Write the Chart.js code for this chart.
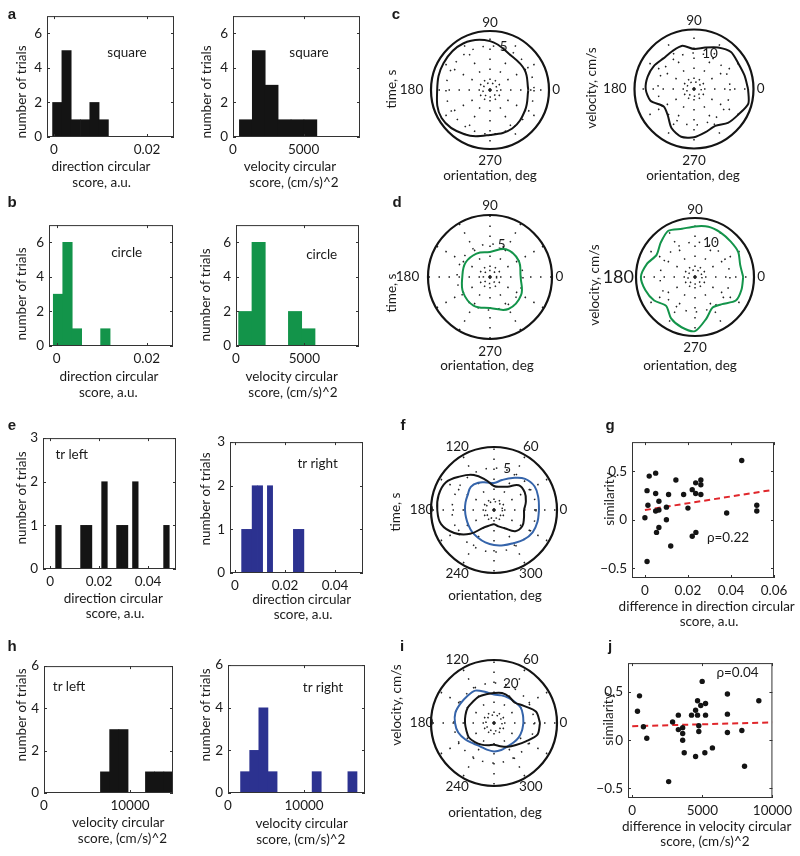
<!DOCTYPE html>
<html>
<head>
<meta charset="utf-8">
<script src="https://cdn.jsdelivr.net/npm/chart.js@4.4.0/dist/chart.umd.min.js"></script>
<style>
html, body { margin: 0; padding: 0; background: #fff; overflow: hidden; }
#page { position: relative; width: 800px; height: 856px; overflow: hidden; font-family: Lato, "Open Sans", sans-serif; color: #1a1a1a; }
canvas { position: absolute; }
.t { position: absolute; font-size: 13.5px; line-height: 1; white-space: nowrap; transform: translate(-50%, -50%); }
.r { transform: translate(-50%, -50%) rotate(-90deg); }
.p { position: absolute; font: bold 15px "Liberation Sans", Arial, sans-serif; line-height: 1; transform: translate(-50%, -50%); }
</style>
</head>
<body>
<div id="page"></div>
<script>
// histograms: bin centres and counts
const sqDirBins = [0.0007, 0.0027, 0.0047, 0.0067, 0.0087, 0.0107];
const sqDirCounts = [2, 5, 1, 1, 2, 1];
const sqVelBins = [910, 1825, 2740, 3655, 4570, 5485];
const sqVelCounts = [1, 5, 3, 1, 1, 1];
const ciDirBins = [0.0003, 0.0024, 0.0045, 0.0108];
const ciDirCounts = [3, 6, 1, 1];
const ciVelBins = [680, 1655, 4320, 5295];
const ciVelCounts = [2, 6, 2, 1];
const leftDirBins = [0.0034, 0.0136, 0.0159, 0.0222, 0.0283, 0.0306, 0.0348, 0.0475];
const leftDirCounts = [1, 1, 1, 2, 1, 1, 2, 1];
const rightDirBins = [0.0037, 0.0058, 0.0079, 0.0100, 0.0140, 0.0244, 0.0265];
const rightDirCounts = [1, 1, 2, 2, 2, 1, 1];
const leftVelBins = [7100, 8170, 9240, 12330, 13400, 14470];
const leftVelCounts = [1, 3, 3, 1, 1, 1];
const rightVelBins = [2250, 3450, 4650, 5850, 11650, 16350];
const rightVelCounts = [1, 2, 4, 1, 1, 1];

// similarity vs difference in circular score
const gDiff = [0.000, 0.001, 0.001, 0.0014, 0.002, 0.005, 0.005, 0.005, 0.0054, 0.0065, 0.0065, 0.0065, 0.010, 0.010, 0.011, 0.012, 0.0144, 0.018, 0.020, 0.022, 0.022, 0.0236, 0.0236, 0.0237, 0.026, 0.026, 0.026, 0.038, 0.045, 0.052, 0.052];
const gSim = [0.02, -0.43, 0.30, 0.15, 0.45, 0.48, 0.27, 0.09, -0.13, 0.10, -0.08, 0.19, 0.00, 0.13, 0.26, -0.27, 0.41, 0.26, 0.12, -0.17, 0.31, 0.38, 0.27, -0.13, 0.41, 0.36, 0.26, 0.07, 0.61, 0.15, 0.09];
const gFitX = [0, 0.06];
const gFitY = [0.10, 0.31];
const jDiff = [377, 520, 800, 1040, 2600, 2880, 3290, 3290, 3600, 3600, 3600, 3710, 4230, 4520, 4520, 4660, 4660, 4750, 4750, 4890, 4990, 5180, 5230, 5230, 5720, 6790, 6790, 6790, 7820, 8010, 9030];
const jSim = [0.30, 0.46, 0.14, 0.02, -0.43, 0.19, 0.26, 0.11, 0.13, 0.07, 0.00, -0.13, 0.26, 0.31, -0.17, 0.41, 0.26, 0.15, 0.09, 0.36, 0.61, -0.13, 0.38, 0.26, -0.08, 0.48, 0.27, 0.08, 0.10, -0.27, 0.41];
const jFitX = [0, 10000];
const jFitY = [0.145, 0.185];

// polar curves (radius per orientation, deg)
const angles30 = [0, 30, 60, 90, 120, 150, 180, 210, 240, 270, 300, 330];
const angles15 = [0, 15, 30, 45, 60, 75, 90, 105, 120, 135, 150, 165, 180, 195, 210, 225, 240, 255, 270, 285, 300, 315, 330, 345];
const squareTime = [4.35, 4.55, 4.6, 5.55, 6.1, 6.1, 6.0, 6.35, 5.8, 5.1, 5.05, 4.6];
const squareVel = [15.0, 14.5, 14.2, 14.5, 13.3, 11.9, 11.1, 12.4, 12.1, 12.0, 12.8, 13.3, 13.4, 12.5, 9.7, 10.3, 12.5, 13.7, 13.4, 12.4, 11.8, 13.3, 14.2, 15.6];
const circleTime = [4.65, 5.0, 4.85, 3.8, 4.1, 4.3, 4.2, 4.7, 5.0, 4.7, 5.6, 5.45];
const circleVel = [13.8, 13.4, 14.3, 14.4, 14.7, 14.9, 14.5, 14.3, 15.3, 13.9, 12.7, 14.3, 15.5, 14.7, 13.5, 11.7, 13.7, 14.9, 15.5, 12.4, 10.1, 11.0, 13.5, 13.8];
const leftTime = [3.57, 3.93, 4.22, 4.17, 3.21, 2.86, 2.86, 3.69, 4.8, 5.66, 6.6, 6.83, 6.75, 6.52, 5.47, 4.01, 2.38, 1.9, 1.7, 2.02, 2.5, 3.57, 3.88, 3.69];
const rightTime = [5.36, 5.47, 5.59, 5.24, 4.4, 3.69, 3.21, 3.4, 3.75, 3.9, 3.61, 3.51, 3.45, 3.45, 3.53, 3.69, 3.81, 3.99, 4.17, 4.34, 4.56, 5.0, 5.31, 5.36];
const leftVel = [23, 21.8, 17.2, 14.5, 15.2, 15.5, 15, 14.9, 15.2, 15, 15.2, 14.8, 14.5, 14.3, 14.5, 13.5, 12.5, 11.5, 10.9, 12, 13.7, 15.5, 18.4, 22.5];
const rightVel = [14.7, 15, 15.4, 14.8, 14.5, 14.3, 14.2, 16, 18.7, 19, 19.4, 20, 19.5, 18.5, 16.5, 14.5, 13.6, 13.8, 14.2, 14, 13.5, 13.8, 14.3, 14.5];

const BLACK = '#141414';
const GREEN = '#13944a';
const NAVY = '#2c3290';
const BLUE = '#3564aa';
const RED = '#e0262b';

Chart.defaults.font.family = 'Lato, "Open Sans", sans-serif';
Chart.defaults.font.size = 13.5;
Chart.defaults.color = '#1a1a1a';
Chart.defaults.animation = false;

const page = document.getElementById('page');

function addCanvas(left, top, w, h) {
    const c = document.createElement('canvas');
    c.width = w;
    c.height = h;
    c.style.left = left + 'px';
    c.style.top = top + 'px';
    c.style.width = w + 'px';
    c.style.height = h + 'px';
    page.appendChild(c);
    return c;
}

function addText(txt, x, y, cls) {
    const d = document.createElement('div');
    d.className = cls || 't';
    d.textContent = txt;
    d.style.left = x + 'px';
    d.style.top = y + 'px';
    page.appendChild(d);
}

const fmt = v => (v < 0 ? '\u2212' + Math.abs(v) : String(v));

// box + inward ticks on all four sides, like the matlab axes
const framePlugin = {
    id: 'frame',
    afterDatasetsDraw(chart) {
        const {ctx, chartArea: a, scales: {x, y}} = chart;
        ctx.save();
        ctx.strokeStyle = '#333';
        ctx.lineWidth = 1;
        ctx.strokeRect(a.left + 0.5, a.top + 0.5, a.right - a.left - 1, a.bottom - a.top - 1);
        ctx.beginPath();
        x.ticks.forEach(t => {
            const px = Math.round(x.getPixelForValue(t.value)) + 0.5;
            ctx.moveTo(px, a.bottom); ctx.lineTo(px, a.bottom - 3);
            ctx.moveTo(px, a.top); ctx.lineTo(px, a.top + 3);
        });
        y.ticks.forEach(t => {
            const py = Math.round(y.getPixelForValue(t.value)) + 0.5;
            ctx.moveTo(a.left, py); ctx.lineTo(a.left + 3, py);
            ctx.moveTo(a.right, py); ctx.lineTo(a.right - 3, py);
        });
        ctx.stroke();
        ctx.restore();
    }
};

function axis(range, ticks, fit) {
    return {
        type: 'linear',
        min: range[0],
        max: range[1],
        offset: false,
        grid: {display: false, drawTicks: false},
        border: {display: false},
        afterBuildTicks: s => { s.ticks = ticks.map(v => ({value: v})); },
        afterFit: fit,
        ticks: {padding: 5, autoSkip: false, maxRotation: 0, callback: fmt}
    };
}

// box = [left, right, top, bottom] of the plot area on the page
function frameChart(type, box, datasets, xr, xTicks, yr, yTicks, padR) {
    const padT = 10, yW = 50, xH = 30;
    const w = box[1] - box[0], h = box[3] - box[2];
    const cv = addCanvas(box[0] - yW, box[2] - padT, w + yW + padR, h + padT + xH);
    return new Chart(cv, {
        type: type,
        data: {datasets: datasets},
        options: {
            responsive: false,
            animation: false,
            events: [],
            layout: {padding: {top: padT, right: padR, left: 0, bottom: 0}},
            plugins: {legend: {display: false}, tooltip: {enabled: false}},
            scales: {
                x: axis(xr, xTicks, s => { s.height = xH; }),
                y: axis(yr, yTicks, s => { s.width = yW; })
            }
        },
        plugins: [framePlugin]
    });
}

function histogram(box, bins, counts, color, xr, xTicks, yMax, yTicks) {
    const ds = [{
        data: bins.map((b, i) => ({x: b, y: counts[i]})),
        backgroundColor: color,
        borderWidth: 0,
        barPercentage: 1,
        categoryPercentage: 1
    }];
    frameChart('bar', box, ds, xr, xTicks, [0, yMax], yTicks, 8);
}

function scatter(box, xs, ys, fitX, fitY, xr, xTicks) {
    const ds = [
        {data: xs.map((v, i) => ({x: v, y: ys[i]})), pointRadius: 2.7, pointBackgroundColor: BLACK, pointBorderWidth: 0},
        {data: fitX.map((v, i) => ({x: v, y: fitY[i]})), showLine: true, borderColor: RED, borderWidth: 2, borderDash: [6, 4], pointRadius: 0}
    ];
    frameChart('scatter', box, ds, xr, xTicks, [-0.6, 0.8], [-0.5, 0, 0.5], 24);
}

function toXY(angles, radii) {
    const pts = angles.map((a, i) => ({
        x: radii[i] * Math.cos(a * Math.PI / 180),
        y: radii[i] * Math.sin(a * Math.PI / 180)
    }));
    pts.push(pts[0]);
    return pts;
}

// dotted spokes / rings, outer circle and angle labels
function polarGrid(cfg) {
    return {
        id: 'polarGrid',
        beforeDatasetsDraw(chart) {
            const {ctx, scales: {x, y}} = chart;
            const cx = x.getPixelForValue(0), cy = y.getPixelForValue(0);
            const rp = v => x.getPixelForValue(v) - cx;
            const R = rp(cfg.rMax);
            ctx.save();
            ctx.strokeStyle = '#222';
            ctx.lineWidth = 1.5;
            ctx.setLineDash([1.5, 8.5]);
            for (let a = 0; a < 360; a += 30) {
                const t = a * Math.PI / 180;
                ctx.beginPath();
                ctx.moveTo(cx, cy);
                ctx.lineTo(cx + R * Math.cos(t), cy - R * Math.sin(t));
                ctx.stroke();
            }
            cfg.rings.forEach((v, i) => {
                ctx.setLineDash(i === 0 ? [1.5, 3.5] : [1.5, 9]);
                ctx.beginPath();
                ctx.arc(cx, cy, rp(v), 0, 2 * Math.PI);
                ctx.stroke();
            });
            ctx.setLineDash([]);
            ctx.lineWidth = 2.2;
            ctx.strokeStyle = BLACK;
            ctx.beginPath();
            ctx.arc(cx, cy, R, 0, 2 * Math.PI);
            ctx.stroke();

            ctx.fillStyle = '#1a1a1a';
            ctx.textAlign = 'center';
            ctx.textBaseline = 'middle';
            cfg.labels.forEach(l => {
                const t = l[0] * Math.PI / 180;
                ctx.font = (l[3] || 13.5) + 'px Lato, sans-serif';
                ctx.fillText(l[1], cx + l[2] * R * Math.cos(t), cy - l[2] * R * Math.sin(t));
            });
            const rr = rp(cfg.ringLabel[0]), t80 = 80 * Math.PI / 180;
            ctx.font = '13.5px Lato, sans-serif';
            ctx.textAlign = 'left';
            ctx.fillText(cfg.ringLabel[1], cx + rr * Math.cos(t80) + 2, cy - rr * Math.sin(t80));
            ctx.restore();
        }
    };
}

function polar(cfg) {
    const W = 220, H = 200;
    const cv = addCanvas(cfg.cx - W / 2, cfg.cy - H / 2, W, H);
    const k = cfg.rMax / cfg.R;
    const datasets = cfg.curves.map(c => ({
        data: toXY(c.angles, c.radii),
        showLine: true,
        borderColor: c.color,
        borderWidth: 2,
        borderJoinStyle: 'round',
        pointRadius: 0,
        tension: c.tension
    }));
    new Chart(cv, {
        type: 'scatter',
        data: {datasets: datasets},
        options: {
            responsive: false,
            animation: false,
            events: [],
            layout: {padding: 0},
            plugins: {legend: {display: false}, tooltip: {enabled: false}},
            scales: {
                x: {display: false, min: -W / 2 * k, max: W / 2 * k},
                y: {display: false, min: -H / 2 * k, max: H / 2 * k}
            }
        },
        plugins: [polarGrid(cfg)]
    });
}

const quad = [[0, '0', 1.12], [90, '90', 1.15], [180, '180', 1.33], [270, '270', 1.2]];
const quadBig = [[0, '0', 1.12], [90, '90', 1.15], [180, '180', 1.3, 18], [270, '270', 1.2]];
const hex = [[0, '0', 1.1], [60, '60', 1.17], [120, '120', 1.17], [180, '180', 1.15], [240, '240', 1.17], [300, '300', 1.17]];

// ---- a, b ----
histogram([47, 174, 13, 137], sqDirBins, sqDirCounts, BLACK, [-0.0015, 0.0258], [0, 0.02], 7, [0, 2, 4, 6]);
histogram([233, 360, 13, 137], sqVelBins, sqVelCounts, BLACK, [0, 9000], [0, 5000], 7, [0, 2, 4, 6]);
histogram([49, 173, 222, 346], ciDirBins, ciDirCounts, GREEN, [-0.0017, 0.0258], [0, 0.02], 7, [0, 2, 4, 6]);
histogram([236, 359, 222, 346], ciVelBins, ciVelCounts, GREEN, [0, 9000], [0, 5000], 7, [0, 2, 4, 6]);

// ---- e, h ----
histogram([43, 176, 435, 569], leftDirBins, leftDirCounts, BLACK, [-0.0029, 0.0514], [0, 0.02, 0.04], 3, [0, 1, 2, 3]);
histogram([230, 363, 439, 573], rightDirBins, rightDirCounts, NAVY, [-0.002, 0.0512], [0, 0.02, 0.04], 3, [0, 1, 2, 3]);
histogram([44, 173, 663, 793], leftVelBins, leftVelCounts, BLACK, [0, 15000], [0, 10000], 6, [0, 2, 4, 6]);
histogram([228, 365, 662, 793], rightVelBins, rightVelCounts, NAVY, [0, 18000], [0, 10000], 6, [0, 2, 4, 6]);

// ---- g, j ----
scatter([632, 774, 439, 578], gDiff, gSim, gFitX, gFitY, [-0.006, 0.06], [0, 0.02, 0.04, 0.06]);
scatter([628, 773, 660, 798], jDiff, jSim, jFitX, jFitY, [-300, 10000], [0, 5000, 10000]);

// ---- c, d, f, i ----
polar({cx: 490, cy: 90, R: 59, rMax: 6.7, rings: [0.8, 5], ringLabel: [5, '5'], labels: quad,
    curves: [{angles: angles30, radii: squareTime, color: BLACK, tension: 0.4}]});
polar({cx: 694, cy: 89, R: 59.5, rMax: 16.5, rings: [2, 10], ringLabel: [10, '10'], labels: quad,
    curves: [{angles: angles15, radii: squareVel, color: BLACK, tension: 0.25}]});
polar({cx: 490, cy: 277, R: 62, rMax: 9.4, rings: [1, 5], ringLabel: [5, '5'], labels: quad,
    curves: [{angles: angles30, radii: circleTime, color: GREEN, tension: 0.4}]});
polar({cx: 695, cy: 277, R: 59, rMax: 16.9, rings: [2, 10], ringLabel: [10, '10'], labels: quadBig,
    curves: [{angles: angles15, radii: circleVel, color: GREEN, tension: 0.25}]});
polar({cx: 494, cy: 510, R: 63, rMax: 7.5, rings: [1, 5], ringLabel: [5, '5'], labels: hex,
    curves: [{angles: angles15, radii: leftTime, color: BLACK, tension: 0.4},
             {angles: angles15, radii: rightTime, color: BLUE, tension: 0.4}]});
polar({cx: 494, cy: 723, R: 63, rMax: 31.5, rings: [4, 20], ringLabel: [20, '20'], labels: hex,
    curves: [{angles: angles15, radii: leftVel, color: BLACK, tension: 0.3},
             {angles: angles15, radii: rightVel, color: BLUE, tension: 0.3}]});

// ---- panel letters ----
[['a', 12, 13], ['b', 12, 201], ['c', 396, 13], ['d', 397, 201], ['e', 12, 424], ['f', 403, 424],
 ['g', 610, 424], ['h', 12, 645], ['i', 402, 645], ['j', 610, 645]].forEach(p => addText(p[0], p[1], p[2], 'p'));

// ---- y axis titles ----
addText('number of trials', 21.7, 91.7, 't r');
addText('number of trials', 206.7, 91.7, 't r');
addText('number of trials', 21.7, 294, 't r');
addText('number of trials', 205.5, 295, 't r');
addText('number of trials', 21.7, 497.5, 't r');
addText('number of trials', 206, 499, 't r');
addText('number of trials', 22, 715, 't r');
addText('number of trials', 205.5, 715, 't r');
addText('similarity', 610, 499, 't r');
addText('similarity', 609.3, 719, 't r');
addText('time, s', 392, 89, 't r');
addText('velocity, cm/s', 591.7, 88, 't r');
addText('time, s', 392, 293, 't r');
addText('velocity, cm/s', 595, 285, 't r');
addText('time, s', 396, 512, 't r');
addText('velocity, cm/s', 397, 705, 't r');

// ---- x axis titles ----
addText('direction circular', 101, 166.7);
addText('score, a.u.', 101.7, 182.7);
addText('velocity circular', 290, 167.3);
addText('score, (cm/s)^2', 294, 183.3);
addText('direction circular', 109, 376.7);
addText('score, a.u.', 108.3, 392.7);
addText('velocity circular', 291.7, 376.7);
addText('score, (cm/s)^2', 293, 392.7);
addText('direction circular', 113.3, 599);
addText('score, a.u.', 115, 614.3);
addText('direction circular', 301.7, 600);
addText('score, a.u.', 303, 615);
addText('velocity circular', 118.3, 823.3);
addText('score, (cm/s)^2', 122.5, 839.3);
addText('velocity circular', 301.7, 824);
addText('score, (cm/s)^2', 300.8, 840);
addText('difference in direction circular', 706.7, 607.3);
addText('score, a.u.', 709, 621.7);
addText('difference in velocity circular', 706.7, 826.7);
addText('score, (cm/s)^2', 705, 841.7);
addText('orientation, deg', 490, 176);
addText('orientation, deg', 693, 176);
addText('orientation, deg', 487, 366);
addText('orientation, deg', 690, 366);
addText('orientation, deg', 495, 596);
addText('orientation, deg', 495, 813.3);

// ---- in-plot notes ----
addText('square', 127, 52.7);
addText('square', 309, 52.7);
addText('circle', 126.7, 253.3);
addText('circle', 321.7, 255);
addText('tr left', 71.7, 455);
addText('tr right', 317.7, 464.3);
addText('tr left', 69, 686.7);
addText('tr right', 323, 688.3);
addText('\u03c1=0.22', 728, 538.3);
addText('\u03c1=0.04', 737.5, 673.3);
</script>
</body>
</html>
